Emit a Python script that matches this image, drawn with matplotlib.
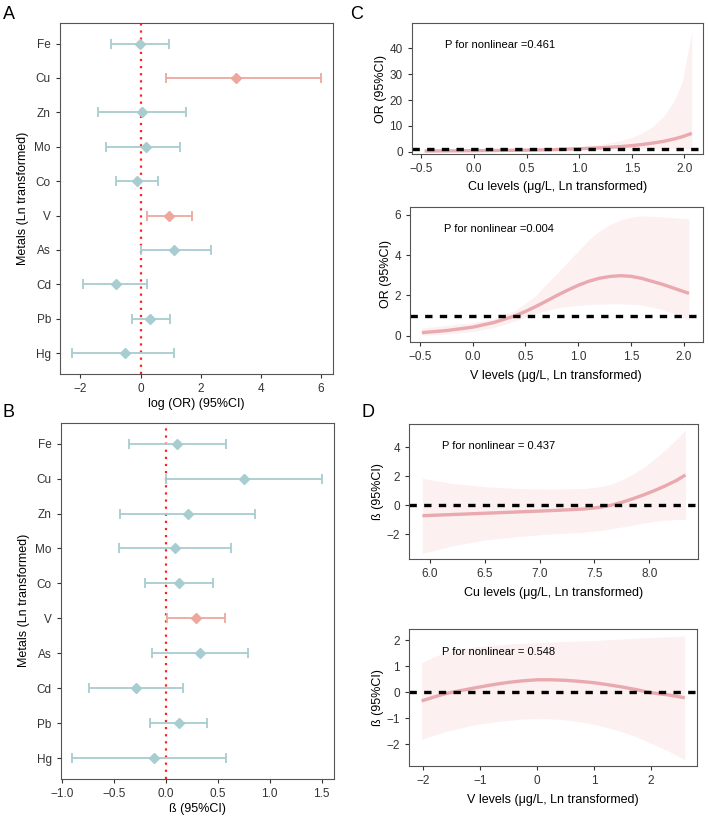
import numpy as np
import matplotlib
matplotlib.use('agg')
import matplotlib.pyplot as plt

plt.rcParams['font.family'] = ['Liberation Sans', 'DejaVu Sans']
plt.rcParams['axes.edgecolor'] = '#555555'
plt.rcParams['xtick.color'] = '#333333'
plt.rcParams['ytick.color'] = '#333333'

# forest plot data (A: log OR, B: beta)
metals = ['Fe', 'Cu', 'Zn', 'Mo', 'Co', 'V', 'As', 'Cd', 'Pb', 'Hg']
or_est = [-0.03, 3.17, 0.06, 0.17, -0.12, 0.93, 1.10, -0.82, 0.33, -0.53]
or_low = [-0.99, 0.84, -1.43, -1.16, -0.82, 0.23, 0.02, -1.92, -0.29, -2.29]
or_high = [0.94, 5.99, 1.52, 1.31, 0.57, 1.72, 2.34, 0.21, 0.98, 1.10]
or_sig = [0, 1, 0, 0, 0, 1, 0, 0, 0, 0]

b_est = [0.109, 0.752, 0.209, 0.087, 0.122, 0.292, 0.331, -0.286, 0.125, -0.116]
b_low = [-0.36, -0.003, -0.44, -0.45, -0.206, 0.01, -0.132, -0.739, -0.151, -0.903]
b_high = [0.578, 1.50, 0.861, 0.626, 0.45, 0.569, 0.79, 0.167, 0.398, 0.581]
b_sig = [0, 0, 0, 0, 0, 1, 0, 0, 0, 0]

# restricted cubic spline curves
cu_or_x = [-0.47, -0.2, 0.0, 0.25, 0.5, 0.75, 1.0, 1.2, 1.4, 1.5, 1.6, 1.7, 1.8, 1.9, 1.98, 2.07]
cu_or_y = [0.27, 0.33, 0.4, 0.5, 0.6, 0.8, 1.15, 1.5, 2.0, 2.35, 2.8, 3.35, 4.0, 4.9, 5.8, 7.1]
cu_or_lo = [0.05, 0.1, 0.18, 0.28, 0.38, 0.52, 0.7, 0.85, 0.98, 1.03, 1.08, 1.12, 1.15, 1.18, 1.2, 1.25]
cu_or_hi = [1.2, 1.0, 0.9, 0.9, 1.0, 1.3, 1.9, 2.8, 4.3, 5.6, 7.3, 9.8, 13.5, 19.5, 27.0, 46.5]

v_or_x = [-0.48, -0.25, 0.0, 0.2, 0.4, 0.5, 0.6, 0.7, 0.8, 0.9, 1.0, 1.1, 1.2, 1.3, 1.4, 1.5, 1.6, 1.8, 2.05]
v_or_y = [0.15, 0.25, 0.42, 0.65, 0.98, 1.2, 1.45, 1.72, 2.0, 2.26, 2.5, 2.7, 2.85, 2.94, 2.98, 2.95, 2.85, 2.55, 2.1]
v_or_lo = [0.02, 0.08, 0.2, 0.4, 0.72, 0.92, 1.1, 1.25, 1.38, 1.45, 1.5, 1.54, 1.57, 1.58, 1.58, 1.56, 1.52, 1.3, 0.78]
v_or_hi = [0.38, 0.5, 0.65, 0.85, 1.25, 1.6, 2.0, 2.55, 3.1, 3.65, 4.2, 4.75, 5.2, 5.5, 5.75, 5.88, 5.95, 5.9, 5.8]

cu_b_x = [5.93, 6.2, 6.5, 6.8, 7.1, 7.4, 7.55, 7.65, 7.75, 7.85, 7.95, 8.05, 8.15, 8.25, 8.33]
cu_b_y = [-0.72, -0.64, -0.55, -0.46, -0.37, -0.26, -0.14, 0.0, 0.2, 0.45, 0.72, 1.02, 1.35, 1.72, 2.09]
cu_b_lo = [-3.31, -2.8, -2.39, -2.15, -1.98, -1.85, -1.74, -1.62, -1.5, -1.36, -1.22, -1.1, -1.02, -0.98, -0.97]
cu_b_hi = [1.86, 1.5, 1.28, 1.15, 1.1, 1.15, 1.27, 1.45, 1.75, 2.15, 2.6, 3.2, 3.85, 4.55, 5.2]

v_b_x = [-2.02, -1.8, -1.6, -1.3, -1.06, -0.75, -0.5, -0.25, 0.0, 0.25, 0.5, 0.75, 0.99, 1.25, 1.5, 1.75, 1.98, 2.3, 2.59]
v_b_y = [-0.33, -0.18, -0.05, 0.08, 0.18, 0.3, 0.38, 0.44, 0.48, 0.48, 0.46, 0.42, 0.37, 0.29, 0.2, 0.1, -0.01, -0.1, -0.21]
v_b_lo = [-1.81, -1.65, -1.5, -1.35, -1.23, -1.14, -1.08, -1.03, -1.01, -1.02, -1.06, -1.13, -1.23, -1.36, -1.52, -1.72, -1.94, -2.25, -2.58]
v_b_hi = [1.14, 1.36, 1.55, 1.67, 1.75, 1.81, 1.85, 1.88, 1.9, 1.93, 1.95, 1.97, 1.98, 2.02, 2.05, 2.08, 2.1, 2.13, 2.17]

teal = '#A8CDD0'
salmon = '#EDA79D'
line_col = '#E9A9AE'
band_col = '#FCF0F0'


def forest(ax, est, low, high, sig, xlabel, xlim, xticks, fmt):
    ypos = np.arange(len(metals))[::-1] + 1
    for i in range(len(metals)):
        c = salmon if sig[i] else teal
        ax.errorbar(est[i], ypos[i], xerr=[[est[i] - low[i]], [high[i] - est[i]]],
                    fmt='D', color=c, ms=5, lw=1.3, capsize=3.5, capthick=1.3)
    ax.axvline(0, color='#FF2020', ls=(0, (1, 2.2)), lw=1.6, zorder=0)
    ax.set_yticks(ypos)
    ax.set_yticklabels(metals)
    ax.set_ylim(0.4, len(metals) + 0.6)
    ax.set_xlim(*xlim)
    ax.set_xticks(xticks)
    ax.set_xticklabels([fmt.format(t).replace('-', '\u2212') for t in xticks])
    ax.set_xlabel(xlabel, fontsize=9, labelpad=2)
    ax.set_ylabel('Metals (Ln transformed)', fontsize=9)
    ax.tick_params(labelsize=8.5, length=3, width=0.8)


def spline(ax, x, y, lo, hi, xlabel, ylabel, ptext, xlim, ylim, xticks, yticks, fmt, ref, lpad):
    ax.fill_between(x, lo, hi, color=band_col, lw=0)
    ax.plot(x, y, color=line_col, lw=2.4, solid_capstyle='butt')
    ax.axhline(ref, color='black', lw=2.4, ls=(0, (2.2, 2.2)))
    ax.set_xlim(*xlim)
    ax.set_ylim(*ylim)
    ax.set_xticks(xticks)
    ax.set_xticklabels([fmt.format(t).replace('-', '\u2212') for t in xticks])
    ax.set_yticks(yticks)
    ax.set_yticklabels([str(t).replace('-', '\u2212') for t in yticks])
    ax.set_xlabel(xlabel, fontsize=9, labelpad=lpad)
    ax.set_ylabel(ylabel, fontsize=9, labelpad=2)
    ax.tick_params(labelsize=8.5, length=3, width=0.8)
    ax.text(0.115, 0.835, ptext, transform=ax.transAxes, fontsize=8, va='center')


fig = plt.figure(figsize=(7.08, 8.18), dpi=100)

axA = fig.add_axes([0.0847, 0.543, 0.3853, 0.429])
forest(axA, or_est, or_low, or_high, or_sig, 'log (OR) (95%CI)',
       (-2.68, 6.39), [-2, 0, 2, 4, 6], '{:d}')

axB = fig.add_axes([0.0857, 0.0477, 0.3863, 0.4355])
forest(axB, b_est, b_low, b_high, b_sig, '\u00df (95%CI)',
       (-1.015, 1.622), [-1.0, -0.5, 0.0, 0.5, 1.0, 1.5], '{:.1f}')

axC1 = fig.add_axes([0.5815, 0.8117, 0.4119, 0.1598])
spline(axC1, cu_or_x, cu_or_y, cu_or_lo, cu_or_hi,
       'Cu levels (\u03bcg/L, Ln transformed)', 'OR (95%CI)', 'P for nonlinear =0.461',
       (-0.593, 2.18), (-0.9, 49.7), [-0.5, 0.0, 0.5, 1.0, 1.5, 2.0], [0, 10, 20, 30, 40],
       '{:.1f}', 1, 4)

axC2 = fig.add_axes([0.579, 0.5823, 0.4135, 0.1643])
spline(axC2, v_or_x, v_or_y, v_or_lo, v_or_hi,
       'V levels (\u03bcg/L, Ln transformed)', 'OR (95%CI)', 'P for nonlinear =0.004',
       (-0.593, 2.18), (-0.3, 6.38), [-0.5, 0.0, 0.5, 1.0, 1.5, 2.0], [0, 2, 4, 6],
       '{:.1f}', 1, 5)

axD1 = fig.add_axes([0.578, 0.3163, 0.4083, 0.1654])
spline(axD1, cu_b_x, cu_b_y, cu_b_lo, cu_b_hi,
       'Cu levels (\u03bcg/L, Ln transformed)', '\u00df (95%CI)', 'P for nonlinear = 0.437',
       (5.81, 8.447), (-3.72, 5.6), [6.0, 6.5, 7.0, 7.5, 8.0], [-2, 0, 2, 4],
       '{:.1f}', 0, 5)

axD2 = fig.add_axes([0.5777, 0.0636, 0.4072, 0.1671])
spline(axD2, v_b_x, v_b_y, v_b_lo, v_b_hi,
       'V levels (\u03bcg/L, Ln transformed)', '\u00df (95%CI)', 'P for nonlinear = 0.548',
       (-2.24, 2.81), (-2.83, 2.42), [-2, -1, 0, 1, 2], [-2, -1, 0, 1, 2],
       '{:d}', 0, 5)

for lab, x, y in [('A', 0.004, 0.993), ('B', 0.004, 0.506), ('C', 0.494, 0.993), ('D', 0.510, 0.506)]:
    fig.text(x, y, lab, fontsize=13, va='top', ha='left')

fig.savefig('out.png', dpi=100)
plt.close(fig)
